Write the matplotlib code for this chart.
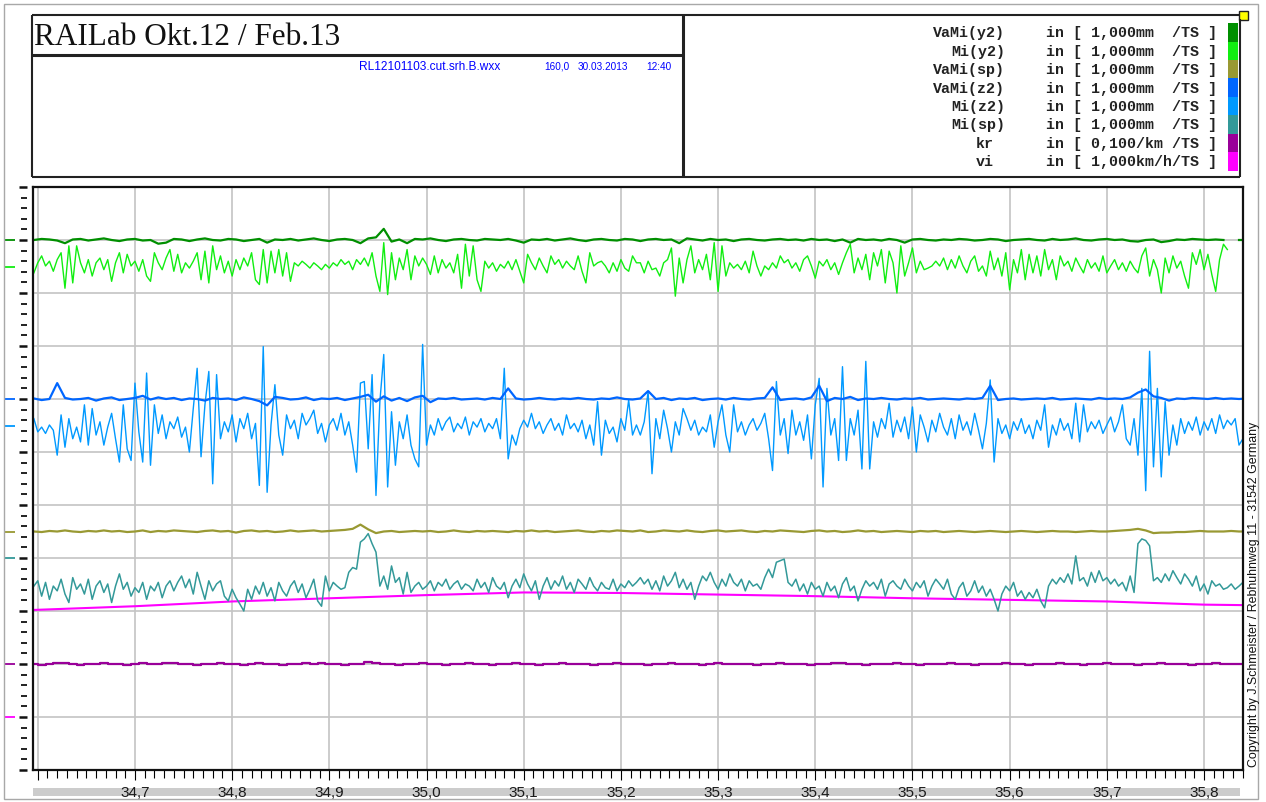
import numpy as np
import matplotlib.pyplot as plt
from matplotlib.patches import Rectangle
from matplotlib.lines import Line2D
from matplotlib.ticker import MultipleLocator

plt.rcParams['font.family'] = ['Liberation Sans', 'DejaVu Sans']

W, H = 1266, 803

# stations in km: fine grid for Mi channels, coarse grid for VaMi/kr
km_fine = np.round(34.596 + 0.004 * np.arange(313), 3)
km_coarse = np.round(34.596 + 0.008 * np.arange(157), 3)
km_vi = [34.596, 34.7, 34.8, 34.9, 35.0, 35.1, 35.2, 35.3, 35.4, 35.5, 35.6, 35.7, 35.8, 35.844]

xtick_km = [34.6, 34.7, 34.8, 34.9, 35.0, 35.1, 35.2, 35.3, 35.4, 35.5, 35.6, 35.7, 35.8]
xtick_labels = ["", "34,7", "34,8", "34,9", "35,0", "35,1", "35,2", "35,3", "35,4", "35,5", "35,6", "35,7", "35,8"]

channels = ["VaMi(y2)", "Mi(y2)", "VaMi(sp)", "VaMi(z2)", "Mi(z2)", "Mi(sp)", "kr", "vi"]
units = ["in [ 1,000mm  /TS ]"] * 6 + ["in [ 0,100/km /TS ]", "in [ 1,000km/h/TS ]"]
per_div = [1.0, 1.0, 1.0, 1.0, 1.0, 1.0, 0.1, 1.0]
zero_div = [10.0, 9.5, 4.5, 7.0, 6.5, 4.0, 2.0, 1.0]
colors = ["#008f00", "#11ee11", "#999933", "#0066ff", "#0099ff", "#339999", "#990099", "#ff00ff"]

# Mi(y2) [mm]
mi_y2 = [
    -0.12, 0.07, 0.20, 0.01, 0.10, -0.09, 0.13, 0.26, -0.41, 0.39,
    -0.31, 0.39, 0.07, -0.12, 0.13, -0.18, 0.07, 0.16, -0.06, 0.13,
    -0.28, 0.07, 0.26, -0.12, 0.23, 0.01, 0.10, -0.09, 0.13, -0.18,
    -0.28, 0.26, 0.07, -0.06, 0.16, 0.32, -0.09, 0.23, -0.12, 0.07,
    -0.03, 0.10, 0.26, -0.25, 0.29, -0.31, 0.39, -0.06, 0.20, -0.12,
    0.10, -0.18, 0.13, -0.06, 0.16, 0.01, 0.26, -0.25, -0.34, 0.32,
    -0.31, 0.29, -0.12, 0.32, -0.18, 0.26, -0.28, 0.07, 0.01, 0.10,
    0.04, -0.03, 0.07, 0.01, -0.06, 0.04, -0.03, 0.07, 0.01, 0.13,
    0.04, 0.10, -0.06, 0.13, 0.04, 0.16, 0.01, 0.26, -0.18, -0.47,
    0.45, -0.53, 0.26, -0.25, 0.16, -0.06, 0.32, -0.25, 0.20, 0.01,
    0.16, 0.04, -0.15, 0.20, -0.12, 0.13, -0.03, 0.07, -0.12, 0.23,
    -0.41, 0.42, -0.18, 0.39, -0.25, -0.47, 0.10, -0.03, 0.07, -0.09,
    0.04, -0.03, 0.10, -0.06, 0.13, -0.09, -0.31, 0.23, 0.07, -0.06,
    0.16, 0.01, -0.12, 0.20, 0.04, 0.13, -0.03, 0.10, 0.01, -0.06,
    0.20, -0.09, -0.31, 0.26, 0.01, 0.07, 0.10, 0.01, -0.12, 0.07,
    -0.09, 0.13, -0.03, -0.09, 0.20, 0.07,
    0.07, -0.12, 0.10, -0.06, -0.03, -0.18, 0.07, 0.13, 0.35, -0.56,
    0.16, -0.31, 0.13, 0.39, -0.12, 0.13, -0.06, 0.23, -0.25, 0.45,
    -0.47, 0.39, -0.18, 0.07, -0.03, 0.04, -0.06, 0.10, -0.12, 0.29,
    0.01, -0.18, 0.01, -0.06, 0.07, -0.03, 0.20, 0.07, 0.13, -0.03,
    0.07, -0.09, 0.13, 0.20, 0.01, -0.22, 0.10, 0.01, 0.13, -0.06,
    0.07, -0.15, 0.07, 0.26, 0.42, -0.12, 0.16, -0.06, 0.23, -0.25,
    0.26, 0.01, 0.32, -0.31, 0.29, 0.07, -0.50, 0.39, -0.18, 0.07,
    0.35, -0.12, 0.10, -0.06, -0.03, 0.01, 0.10, 0.01, 0.16, -0.06,
    0.13, -0.03, 0.20, 0.01, -0.12, 0.10, 0.20, -0.09, 0.01, -0.18,
    0.29, -0.06, 0.16, -0.18, 0.26, -0.44, 0.13, -0.12, 0.32, -0.25,
    0.23, -0.12, 0.20, -0.18, 0.32, -0.06, 0.13, -0.25, 0.20, 0.01,
    0.10, -0.09, 0.16, 0.01, -0.12, 0.13, -0.03, 0.07, -0.09, 0.20,
    -0.12, 0.01, 0.13, -0.06, 0.07, -0.09, 0.10, -0.03, -0.12, 0.20,
    0.35, -0.18, 0.13, -0.06, -0.50, 0.16, -0.12, 0.20, -0.03, 0.10,
    -0.18, -0.41, 0.26, 0.04, 0.32, -0.06, 0.23, -0.15, -0.47, 0.13,
    0.42, 0.32,
    np.nan, np.nan, np.nan, 0.06, 0.06,
]

# Mi(z2) [mm]
mi_z2 = [
    0.13, -0.12, -0.03, -0.15, 0.01, -0.09, -0.56, 0.20, -0.41, 0.13,
    -0.25, -0.03, -0.31, 0.39, -0.37, 0.32, -0.18, 0.07, -0.37, -0.03,
    0.23, -0.25, -0.69, 0.39, -0.44, -0.66, 0.80, -0.12, -0.69, 0.99,
    -0.75, 0.39, -0.15, 0.20, -0.25, 0.07, -0.06, 0.16, -0.22, -0.03,
    -0.50, 0.32, 1.08, -0.59, 0.39, 1.02, -1.10, 0.96, -0.25, 0.07,
    -0.12, 0.20, -0.31, 0.13, -0.06, 0.23, -0.25, 0.04, -1.13, 1.49,
    -1.26, 0.01, 0.77, -0.18, -0.56, 0.20, -0.06, 0.10, -0.25, 0.23,
    0.01, 0.13, 0.29, -0.15, 0.04, -0.31, 0.01, 0.13, -0.09, 0.23,
    -0.18, 0.07, -0.37, -0.88, 0.80, 0.83, -0.44, 0.96, -1.32, 0.45,
    1.34, -1.16, 0.26, -0.75, 0.07, -0.25, 0.20, -0.37, -0.63, -0.78,
    1.53, -0.37, 0.01, -0.18, 0.13, -0.09, 0.07, 0.16, -0.12, 0.04,
    -0.06, 0.16, -0.18, 0.07, -0.03, 0.13, -0.12, 0.04, -0.06, 0.13,
    -0.25, 1.08, -0.63, -0.18, -0.37, -0.06, 0.10, -0.03, 0.23, -0.06,
    0.07, -0.15, 0.01, 0.13, -0.09, 0.04, -0.18, 0.20, -0.06, 0.04,
    -0.12, 0.10, -0.25, 0.01, -0.37, 0.45, -0.56, 0.10, -0.15, -0.03,
    -0.31, 0.13, -0.09, 0.48, -0.18, 0.01,
    -0.18, 0.07, 0.64, -0.91, 0.13, -0.25, 0.29, -0.06, -0.50, 0.07,
    -0.18, 0.32, 0.13, -0.09, 0.10, -0.18, -0.03, -0.12, 0.20, -0.41,
    0.07, 0.39, -0.18, -0.50, 0.39, -0.12, 0.07, -0.18, 0.01, 0.13,
    -0.09, 0.04, 0.23, -0.25, -0.85, 0.83, -0.18, 0.13, -0.53, 0.29,
    -0.18, 0.07, -0.28, 0.20, -0.63, 0.39, 0.89, -1.16, 0.70, -0.18,
    0.13, -0.66, 1.11, -0.66, 0.13, -0.18, 0.29, -0.82, 1.21, -0.82,
    0.07, -0.22, 0.13, -0.06, 0.42, -0.22, 0.10, -0.12, 0.16, -0.25,
    0.35, -0.50, 0.20, -0.03, -0.31, 0.10, -0.12, 0.23, -0.03, -0.18,
    0.13, -0.25, 0.20, -0.09, 0.07, -0.18, 0.23, -0.09, -0.44, 0.04,
    0.86, -0.69, 0.13, -0.15, 0.01, -0.25, 0.07, -0.09, 0.13, -0.15,
    0.01, -0.25, 0.10, -0.09, 0.39, -0.41, 0.01, -0.18, 0.13, -0.09,
    0.04, -0.25, 0.42, -0.31, 0.39, -0.12, 0.07, -0.06, 0.10, -0.15,
    0.01, 0.16, -0.12, 0.07, 0.39, -0.25, -0.37, 0.13, -0.56, 0.70,
    -1.23, 1.40, -0.78, 0.70, -0.97, 0.45, -0.56, 0.01, -0.37, 0.13,
    -0.15, 0.07, -0.09, 0.16, -0.18, 0.07, -0.09, 0.13, -0.15, 0.20,
    -0.06, 0.10,
    0.01, 0.13, -0.37, -0.25, -0.18,
]

# Mi(sp) [mm]
mi_sp = [
    -0.53, -0.43, -0.72, -0.46, -0.78, -0.53, -0.62, -0.40, -0.68, -0.84,
    -0.37, -0.59, -0.49, -0.68, -0.40, -0.78, -0.53, -0.43, -0.65, -0.49,
    -0.84, -0.53, -0.30, -0.59, -0.46, -0.72, -0.56, -0.65, -0.46, -0.78,
    -0.53, -0.62, -0.46, -0.75, -0.53, -0.43, -0.62, -0.46, -0.34, -0.56,
    -0.40, -0.68, -0.27, -0.53, -0.78, -0.43, -0.62, -0.49, -0.43, -0.72,
    -0.81, -0.59, -0.75, -0.87, -1.00, -0.59, -0.78, -0.53, -0.68, -0.46,
    -0.72, -0.56, -0.81, -0.46, -0.62, -0.72, -0.53, -0.43, -0.65, -0.49,
    -0.75, -0.59, -0.40, -0.81, -0.91, -0.34, -0.62, -0.46, -0.53, -0.59,
    -0.56, -0.27, -0.18, -0.21, 0.30, 0.36, 0.46, 0.27, 0.11, -0.53,
    -0.34, -0.59, -0.15, -0.46, -0.37, -0.68, -0.27, -0.65, -0.53, -0.46,
    -0.59, -0.53, -0.43, -0.62, -0.46, -0.53, -0.40, -0.59, -0.49, -0.43,
    -0.59, -0.49, -0.53, -0.62, -0.40, -0.56, -0.46, -0.65, -0.37, -0.53,
    -0.59, -0.46, -0.75, -0.53, -0.40, -0.56, -0.30, -0.49, -0.62, -0.43,
    -0.78, -0.53, -0.37, -0.59, -0.43, -0.53, -0.34, -0.59, -0.46, -0.65,
    -0.40, -0.49, -0.59, -0.37, -0.53, -0.62, -0.46, -0.56, -0.59, -0.40,
    -0.62, -0.49, -0.56, -0.43, -0.53, -0.46,
    -0.37, -0.49, -0.40, -0.59, -0.43, -0.62, -0.34, -0.53, -0.43, -0.27,
    -0.56, -0.40, -0.59, -0.46, -0.78, -0.53, -0.34, -0.43, -0.27, -0.46,
    -0.59, -0.40, -0.53, -0.30, -0.46, -0.53, -0.40, -0.62, -0.43, -0.53,
    -0.49, -0.59, -0.37, -0.21, -0.37, -0.08, -0.05, -0.02, -0.46, -0.53,
    -0.40, -0.62, -0.49, -0.68, -0.46, -0.59, -0.53, -0.72, -0.46, -0.62,
    -0.53, -0.75, -0.49, -0.37, -0.62, -0.53, -0.81, -0.59, -0.43, -0.53,
    -0.46, -0.59, -0.40, -0.72, -0.49, -0.43, -0.53, -0.59, -0.40, -0.53,
    -0.62, -0.46, -0.56, -0.43, -0.72, -0.53, -0.40, -0.49, -0.59, -0.40,
    -0.68, -0.78, -0.56, -0.46, -0.72, -0.62, -0.43, -0.65, -0.53, -0.72,
    -0.59, -0.78, -1.00, -0.68, -0.53, -0.62, -0.46, -0.72, -0.62, -0.78,
    -0.65, -0.75, -0.59, -0.81, -0.94, -0.53, -0.40, -0.49, -0.37, -0.46,
    -0.30, -0.49, 0.04, -0.43, -0.37, -0.53, -0.27, -0.46, -0.24, -0.43,
    -0.37, -0.49, -0.40, -0.53, -0.46, -0.62, -0.34, -0.65, 0.27, 0.36,
    0.33, 0.23, -0.43, -0.37, -0.46, -0.30, -0.43, -0.24, -0.37, -0.49,
    -0.30, -0.40, -0.53, -0.34, -0.62, -0.49, -0.68, -0.43, -0.53, -0.49,
    -0.59, -0.56,
    -0.49, -0.59, -0.53, -0.46, -0.49,
]

# VaMi(y2) [mm]
vami_y2 = [
    0.0, 0.02, 0.01, -0.01, -0.06, 0.01, 0.02, -0.01, 0.01, 0.03,
    0.0, -0.02, 0.01, 0.02, -0.01, 0.0, -0.07, -0.05, 0.02, 0.01,
    -0.02, 0.01, 0.03, 0.0, -0.01, 0.02, 0.01, -0.02, 0.0, 0.02,
    -0.05, 0.01, 0.0, 0.02, -0.01, 0.01, 0.03, 0.0, -0.02, 0.01,
    0.02, 0.0, -0.06, 0.03, 0.05, 0.21, -0.03, 0.01, -0.06, 0.02,
    0.01, 0.03, 0.0, -0.02, 0.01, 0.02, 0.0, -0.01, 0.02, 0.01,
    0.0, 0.02, -0.01, -0.05, 0.01, 0.0, 0.02, -0.01, 0.01, 0.03,
    0.0, -0.02, 0.01, 0.02, 0.0, -0.01, 0.02, 0.01, -0.02, 0.01,
    0.02, 0.0, 0.01, -0.06, 0.03, 0.01, -0.01, 0.02, 0.0, 0.01,
    -0.02, 0.01, 0.02, 0.0, -0.01, 0.01, 0.02, 0.0, 0.01, -0.01,
    0.02, 0.0, 0.01, -0.02, 0.01, -0.05, 0.02, 0.0, 0.01, -0.01,
    0.02, 0.0, -0.05, 0.01, 0.02, 0.0, -0.01, 0.01, 0.0, 0.02,
    0.01, -0.01, 0.0, 0.02, 0.01, -0.02, 0.0, 0.01, 0.02, 0.0,
    -0.01, 0.02, 0.0, 0.01, 0.03, 0.0, -0.01, 0.01, 0.02, 0.0,
    0.01, -0.02, -0.03, 0.0, 0.01, -0.04, -0.02, 0.01, 0.0, 0.02,
    0.01, 0.0, 0.01, 0.0, np.nan, 0.0, 0.0,
]

# VaMi(z2) [mm]
vami_z2 = [
    0.01, -0.02, 0.0, 0.30, 0.02, -0.01, 0.0, 0.02, -0.03, 0.01,
    0.03, -0.02, 0.0, 0.02, 0.06, -0.01, 0.03, 0.0, 0.02, -0.02,
    0.01, 0.0, -0.03, 0.02, 0.0, 0.01, -0.02, 0.03, 0.0, -0.04,
    -0.12, 0.04, 0.02, -0.01, 0.0, 0.03, -0.02, 0.01, 0.0, 0.02,
    -0.02, 0.01, 0.04, 0.08, -0.05, 0.05, -0.03, 0.02, -0.04, 0.03,
    0.06, -0.06, 0.01, 0.0, 0.02, -0.01, 0.0, 0.01, -0.01, 0.02,
    0.0, 0.20, 0.01, -0.01, 0.0, 0.02, 0.0, -0.01, 0.01, 0.0,
    0.02, 0.0, -0.01, 0.01, 0.0, 0.03, 0.0, -0.01, 0.01, 0.15,
    0.0, 0.02, -0.02, 0.01, 0.0, 0.02, -0.02, 0.0, 0.01, -0.01,
    0.02, 0.0, -0.01, 0.01, 0.02, 0.22, -0.02, 0.0, 0.01, -0.01,
    0.03, 0.25, -0.04, 0.02, 0.0, 0.04, -0.02, 0.01, 0.0, 0.02,
    0.0, -0.01, 0.01, 0.0, 0.02, -0.01, 0.0, 0.01, 0.0, -0.01,
    0.01, 0.0, 0.02, 0.25, -0.02, 0.0, 0.01, -0.01, 0.0, 0.01,
    0.0, 0.02, -0.01, 0.0, 0.01, 0.0, -0.01, 0.02, 0.0, 0.01,
    0.0, 0.03, 0.12, 0.18, 0.05, 0.02, -0.03, 0.01, 0.0, 0.02,
    0.01, 0.0, 0.02, 0.0, 0.01, 0.0, 0.01,
]

# VaMi(sp) [mm]
vami_sp = [
    0.0, -0.01, 0.01, 0.0, 0.02, 0.0, -0.01, 0.01, 0.0, 0.02,
    0.0, 0.01, -0.01, 0.0, 0.02, -0.01, 0.01, 0.0, 0.02, 0.01,
    0.0, -0.01, 0.01, 0.02, 0.0, 0.01, -0.02, 0.01, 0.02, 0.0,
    0.01, -0.01, 0.0, 0.02, 0.0, 0.01, 0.02, 0.0, 0.01, 0.02,
    0.03, 0.05, 0.13, 0.04, -0.03, 0.0, 0.01, -0.01, 0.0, 0.01,
    0.0, 0.01, -0.01, 0.0, 0.02, 0.0, -0.01, 0.01, 0.0, 0.01,
    0.0, -0.01, 0.01, 0.0, 0.02, 0.0, 0.01, -0.01, 0.0, 0.01,
    0.02, 0.0, -0.01, 0.01, 0.0, 0.02, 0.01, 0.0, 0.02, -0.01,
    0.0, 0.02, 0.01, 0.0, 0.02, 0.0, -0.01, 0.01, 0.02, 0.0,
    0.01, 0.02, 0.0, -0.01, 0.01, 0.0, 0.02, 0.01, 0.0, -0.01,
    0.01, 0.02, 0.0, 0.01, -0.01, 0.0, 0.02, 0.0, 0.01, -0.01,
    0.0, 0.01, 0.0, -0.01, 0.01, 0.0, 0.01, -0.01, 0.0, 0.01,
    0.0, -0.01, 0.0, 0.01, 0.0, -0.01, 0.0, 0.01, 0.0, -0.01,
    0.0, 0.01, 0.0, 0.0, -0.01, 0.0, 0.01, 0.0, 0.0, 0.01,
    0.02, 0.03, 0.05, 0.02, -0.03, -0.02, -0.02, -0.01, -0.01, 0.0,
    0.01, 0.0, 0.0, 0.0, 0.01, 0.0, 0.0,
]

# kr [1/km]
kr = [
    0.0, -0.001, 0.0, 0.002, 0.002, 0.0, -0.001, 0.0, 0.0, 0.001,
    0.0, 0.0, -0.002, 0.0, 0.001, 0.0, 0.0, 0.002, 0.001, 0.0,
    0.0, -0.001, 0.0, 0.0, 0.002, 0.0, 0.0, -0.001, 0.0, 0.001,
    0.0, 0.0, -0.002, 0.0, 0.0, 0.001, 0.0, 0.002, 0.0, 0.0,
    -0.001, 0.0, 0.0, 0.003, 0.002, 0.0, 0.0, -0.001, 0.0, 0.0,
    0.001, 0.0, 0.0, -0.002, 0.0, 0.0, 0.002, 0.0, 0.0, -0.001,
    0.0, 0.0, 0.001, 0.0, 0.0, -0.002, 0.0, 0.0, 0.002, 0.0,
    0.0, 0.0, -0.001, 0.0, 0.0, 0.002, 0.0, 0.0, 0.0, -0.002,
    0.0, 0.0, 0.001, 0.0, 0.0, 0.0, -0.001, 0.0, 0.002, 0.0,
    0.0, 0.0, 0.0, -0.002, 0.0, 0.0, 0.001, 0.0, 0.0, 0.0,
    -0.001, 0.0, 0.0, 0.002, 0.002, 0.0, 0.0, -0.001, 0.0, 0.0,
    0.0, 0.001, 0.0, 0.0, -0.002, 0.0, 0.0, 0.0, 0.002, 0.0,
    0.0, -0.001, 0.0, 0.0, 0.0, 0.001, 0.0, 0.0, -0.002, 0.0,
    0.0, 0.0, 0.002, 0.0, 0.0, -0.001, 0.0, 0.0, 0.001, 0.0,
    0.0, 0.0, -0.002, 0.0, 0.0, 0.002, 0.0, 0.0, 0.0, -0.001,
    0.0, 0.0, 0.001, 0.0, 0.0, 0.0, 0.0,
]

# vi [km/h]
vi = [2.02, 2.09, 2.18, 2.24, 2.30, 2.35, 2.34, 2.31, 2.28, 2.24, 2.21, 2.18, 2.12, 2.11]


def fx(px):
    return px / W


def fy(py):
    return 1 - py / H


fig = plt.figure(figsize=(W / 100, H / 100), dpi=100)


def fline(x0, y0, x1, y1, lw=1.5, color="#222222"):
    fig.add_artist(Line2D([fx(x0), fx(x1)], [fy(y0), fy(y1)], lw=lw, color=color,
                          transform=fig.transFigure, solid_capstyle="butt"))


# outer frame
fig.add_artist(Rectangle((fx(4), fy(800)), fx(1254), 795 / H, fill=False,
                         edgecolor="#a8a8a8", lw=1, transform=fig.transFigure))

# header boxes
fline(32, 16, 1240, 16)
fline(32, 178, 1240, 178)
fline(32, 16, 32, 178)
fline(683, 16, 683, 178, lw=2.2)
fline(32, 56, 683, 56, lw=2.2)
fline(1240, 20, 1240, 178)
fig.add_artist(Rectangle((fx(1239), fy(21)), 9 / W, 9 / H, facecolor="#ffff00",
                         edgecolor="#222222", lw=1, transform=fig.transFigure))

fig.text(fx(34), fy(45), "RAILab Okt.12 / Feb.13", family="Liberation Serif",
         fontsize=22.5, va="baseline", ha="left", color="#111111")
fig.text(fx(359), fy(69.5), "RL12101103.cut.srh.B.wxx", fontsize=8.6,
         color="#0000ff", va="baseline", ha="left")
for txt, x in [("160,0", 570), ("30.03.2013", 628), ("12:40", 672)]:
    fig.text(fx(x), fy(69.5), txt, fontsize=7.2, color="#0000ff", va="baseline", ha="right")

# channel legend
for i, (name, unit, col) in enumerate(zip(channels, units, colors)):
    yc = 33.3 + 18.43 * i
    xr = 1005 if len(name) > 2 else 994
    fig.text(fx(xr), fy(yc), name, family="Liberation Mono", weight="bold",
             fontsize=10.8, ha="right", va="center", color="#222222")
    fig.text(fx(1046), fy(yc), unit, family="Liberation Mono", weight="bold",
             fontsize=10.8, ha="left", va="center", color="#222222")
    fig.add_artist(Rectangle((fx(1228), fy(yc + 9.2)), 10 / W, 18.43 / H,
                             facecolor=col, edgecolor="none", transform=fig.transFigure))

# gray band under the km labels
fig.add_artist(Rectangle((fx(33), fy(797)), fx(1207), 8 / H, facecolor="#cccccc",
                         edgecolor="none", transform=fig.transFigure, zorder=-1))

fig.text(fx(1254), fy(594), "Copyright by J.Schmeister / Rebhuhnweg 11 - 31542 Germany",
         rotation=90, fontsize=8.9, ha="center", va="center", color="#111111")

# main plot
ax = fig.add_axes([fx(33), fy(771), fx(1243 - 33), (771 - 188) / H])
ax.set_xlim(34.5951, 35.8401)
ax.set_ylim(0, 11)
ax.set_xticks(xtick_km)
ax.set_xticklabels(xtick_labels, fontsize=11, color="#1a1a1a")
ax.xaxis.set_minor_locator(MultipleLocator(0.01))
ax.set_yticks(range(0, 12))
ax.tick_params(axis="y", length=0, labelleft=False)
ax.tick_params(axis="x", which="major", length=7, width=0.8, pad=4)
ax.tick_params(axis="x", which="minor", length=6, width=0.8)
ax.grid(True, which="major", color="#c4c4c4", lw=1.2)
ax.set_axisbelow(True)
for s in ax.spines.values():
    s.set_linewidth(1.6)
    s.set_color("#111111")

ytr = ax.get_yaxis_transform()
span = 1243 - 33
minor_y = [k * 0.2 for k in range(56) if k % 5]
ax.hlines(minor_y, (20.7 - 33) / span, (26.7 - 33) / span, transform=ytr,
          color="#111111", lw=1.3, clip_on=False)
ax.hlines(range(0, 12), (19.3 - 33) / span, (27.3 - 33) / span, transform=ytr,
          color="#111111", lw=1.8, clip_on=False)
ax.hlines(zero_div, (4 - 33) / span, (15 - 33) / span, transform=ytr,
          colors=colors, lw=1.3, clip_on=False)


def level(values, k):
    return zero_div[k] + np.asarray(values, dtype=float) / per_div[k]


ax.plot(km_fine, level(mi_y2, 1), color=colors[1], lw=1.0)
ax.plot(km_coarse, level(vami_y2, 0), color=colors[0], lw=1.6)
ax.plot(km_fine, level(mi_z2, 4), color=colors[4], lw=1.0)
ax.plot(km_coarse, level(vami_z2, 3), color=colors[3], lw=1.6)
ax.plot(km_vi, level(vi, 7), color=colors[7], lw=1.5)
ax.plot(km_fine, level(mi_sp, 5), color=colors[5], lw=1.1)
ax.plot(km_coarse, level(vami_sp, 2), color=colors[2], lw=1.6)
ax.plot(km_coarse, level(kr, 6), color=colors[6], lw=1.6, drawstyle="steps-mid")

fig.savefig("out.png", dpi=100)
